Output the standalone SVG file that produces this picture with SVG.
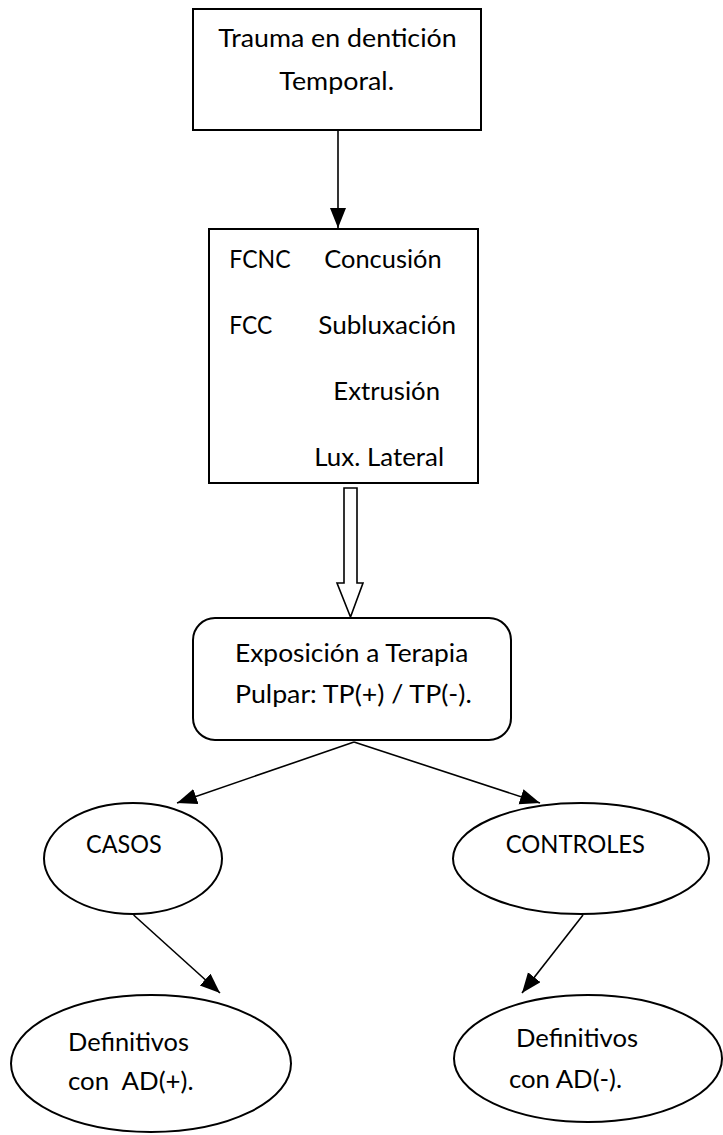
<svg xmlns="http://www.w3.org/2000/svg" width="723" height="1135" viewBox="0 0 723 1135">
<style>
.shape{fill:#fff;stroke:#000;stroke-width:2}
.t{font-family:Lato,"Open Sans","Liberation Sans",sans-serif;font-size:24.5px;fill:#000}
.c{fill:none;stroke:#000;stroke-width:1.6}
</style>
<defs>
<marker id="ah" markerUnits="userSpaceOnUse" markerWidth="22" markerHeight="18" refX="20" refY="8" orient="auto">
<path d="M0,0 L20,8 L0,16 Z" fill="#000"/>
</marker>
</defs>
<rect width="723" height="1135" fill="#fff"/>
<g id="n1">
<rect class="shape" x="193" y="9" width="288" height="121"/>
<text class="t" x="218.3" y="47" textLength="238.4" lengthAdjust="spacingAndGlyphs">Trauma en dentición</text>
<text class="t" x="279.3" y="89.5" textLength="114.7" lengthAdjust="spacingAndGlyphs">Temporal.</text>
</g>
<g id="n2">
<rect class="shape" x="209" y="229" width="269" height="254"/>
<text class="t" x="229.3" y="268.3" textLength="61.3" lengthAdjust="spacingAndGlyphs">FCNC</text>
<text class="t" x="324.3" y="268.3" textLength="117.3" lengthAdjust="spacingAndGlyphs">Concusión</text>
<text class="t" x="229.3" y="334.3" textLength="43" lengthAdjust="spacingAndGlyphs">FCC</text>
<text class="t" x="318.3" y="334.3" textLength="137.7" lengthAdjust="spacingAndGlyphs">Subluxación</text>
<text class="t" x="333.3" y="400" textLength="106.7" lengthAdjust="spacingAndGlyphs">Extrusión</text>
<text class="t" x="314.3" y="466" textLength="129.7" lengthAdjust="spacingAndGlyphs">Lux. Lateral</text>
</g>
<g id="n3">
<rect class="shape" x="193" y="618" width="318" height="122" rx="22" ry="22"/>
<text class="t" x="235" y="662" textLength="233.3" lengthAdjust="spacingAndGlyphs">Exposición a Terapia</text>
<text class="t" x="235" y="703" textLength="236.7" lengthAdjust="spacingAndGlyphs">Pulpar: TP(+) / TP(-).</text>
</g>
<g id="n4">
<ellipse class="shape" cx="133" cy="858.5" rx="89" ry="55.5"/>
<text class="t" x="86" y="853" textLength="75.7" lengthAdjust="spacingAndGlyphs">CASOS</text>
</g>
<g id="n5">
<ellipse class="shape" cx="581" cy="858.5" rx="128" ry="55.5"/>
<text class="t" x="505.7" y="853" textLength="139.3" lengthAdjust="spacingAndGlyphs">CONTROLES</text>
</g>
<g id="n6">
<ellipse class="shape" cx="151" cy="1063.5" rx="140" ry="68.5"/>
<text class="t" x="68" y="1051" textLength="121" lengthAdjust="spacingAndGlyphs">Definitivos</text>
<text class="t" x="68" y="1090" textLength="125.5" lengthAdjust="spacingAndGlyphs" xml:space="preserve">con  AD(+).</text>
</g>
<g id="n7">
<ellipse class="shape" cx="588" cy="1058.5" rx="134" ry="63.5"/>
<text class="t" x="516" y="1047" textLength="122" lengthAdjust="spacingAndGlyphs">Definitivos</text>
<text class="t" x="509" y="1088" textLength="113" lengthAdjust="spacingAndGlyphs">con AD(-).</text>
</g>
<g id="connectors">
<line class="c" x1="338" y1="130" x2="338" y2="228" marker-end="url(#ah)"/>
<polygon points="344,488 357,488 357,583 363,583 350.5,617 337,583 344,583" fill="#fff" stroke="#000" stroke-width="1.6"/>
<line class="c" x1="354" y1="742" x2="177" y2="803" marker-end="url(#ah)"/>
<line class="c" x1="354" y1="742" x2="540" y2="803" marker-end="url(#ah)"/>
<line class="c" x1="133.6" y1="915" x2="220" y2="993" marker-end="url(#ah)"/>
<line class="c" x1="583" y1="915" x2="522" y2="993" marker-end="url(#ah)"/>
</g>
</svg>
